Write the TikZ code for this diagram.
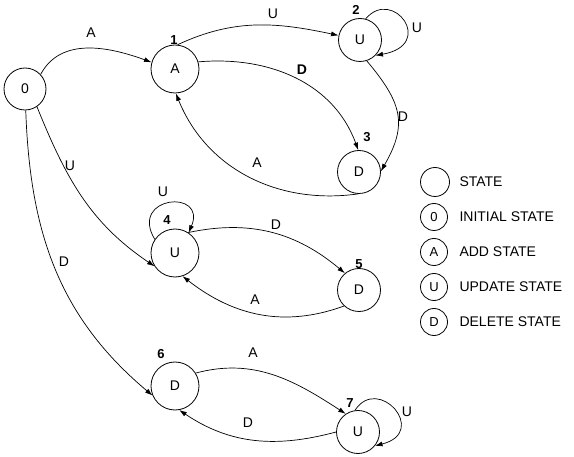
\documentclass[tikz,border=0pt]{standalone}
\usepackage{fontspec}
\setmainfont{Liberation Sans}
\usetikzlibrary{arrows.meta}
\tikzset{
  st/.style={circle, draw, line width=0.8pt, inner sep=0pt, font=\fontsize{14}{14}\selectfont},
  big/.style={st, minimum size=48pt},
  small/.style={st, minimum size=43pt},
  leg/.style={st, minimum size=27pt, font=\fontsize{13}{13}\selectfont},
  num/.style={font=\bfseries\fontsize{13}{13}\selectfont},
  lbl/.style={font=\fontsize{14}{14}\selectfont},
  legtext/.style={anchor=west, font=\fontsize{14}{14}\selectfont},
  tr/.style={-{Latex[length=7.5pt,width=5pt]}, line width=0.7pt},
}
\begin{document}
\begin{tikzpicture}[x=1pt, y=1pt]
\useasboundingbox (0,0) rectangle (574,456);

% states
\node[small, minimum size=42pt] (n0) at (25,367) {0};
\node[big]   (n1) at (175,387) {A};
\node[small] (n2) at (360,416) {U};
\node[small] (n3) at (359,284) {D};
\node[big]   (n4) at (175,203) {U};
\node[small] (n5) at (359,166) {D};
\node[big]   (n6) at (175,70) {D};
\node[small] (n7) at (358,24) {U};

% state numbers
\node[num] (k1) at (174,416) {1};
\node[num] (k2) at (356,446) {2};
\node[num] (k3) at (367,319) {3};
\node[num] (k4) at (167,236) {4};
\node[num] (k5) at (359,192) {5};
\node[num] (k6) at (161,102) {6};
\node[num] (k7) at (350,53) {7};

% transitions
\draw[tr] (n0.43) to[out=62,in=160] (n1.164);
\draw[tr] (n1.84) to[out=25,in=168] (n2.168);
\draw[tr] (n1.17) to[out=5,in=110] (n3.92);
\draw[tr] (n2.75) to[out=50,in=10,out distance=42pt,in distance=62pt] (n2.-45);
\draw[tr] (n2.-72) to[out=-50,in=60,looseness=1.25] (n3.2);
\draw[tr] (n3.-92) to[out=188,in=-68] (n1.-88);
\draw[tr] (n0.-56) to[out=-68,in=146] (n4.213);
\draw[tr] (n4.146) to[out=121,in=67,out distance=51pt,in distance=48pt] (n4.56);
\draw[tr] (n4.57) to[out=12,in=140] (n5.130);
\draw[tr] (n5.227) to[out=200,in=-38] (n4.-72);
\draw[tr] (n0.-88) to[out=-88,in=140] (n6.203);
\draw[tr] (n6.32) to[out=15,in=147] (n7.124);
\draw[tr] (n7.180) to[out=195,in=-34] (n6.-80);
\draw[tr] (n7.98) to[out=57,in=14,out distance=43pt,in distance=56pt] (n7.-39);

% transition labels
\node[lbl] (a01) at (91,423) {A};
\node[lbl] (u12) at (273,442) {U};
\node[lbl, font=\bfseries\fontsize{14}{14}\selectfont] (d13) at (302,386) {D};
\node[lbl] (u22) at (417,428) {U};
\node[lbl] (d23) at (403,339) {D};
\node[lbl] (a31) at (257,293) {A};
\node[lbl] (u04) at (70,290) {U};
\node[lbl] (u44) at (163,264) {U};
\node[lbl] (d45) at (276,231) {D};
\node[lbl] (a54) at (255,156) {A};
\node[lbl] (d06) at (64,194) {D};
\node[lbl] (a67) at (253,103) {A};
\node[lbl] (d76) at (248,33) {D};
\node[lbl] (u77) at (407,44) {U};

% legend
\node[leg, minimum size=29pt] (g0) at (435,274) {};
\node[leg] (g1) at (434,239) {0};
\node[leg] (g2) at (434,204) {A};
\node[leg] (g3) at (434,169) {U};
\node[leg] (g4) at (434,134) {D};
\node[legtext] (t0) at (456,274) {STATE};
\node[legtext] (t1) at (456,239) {INITIAL STATE};
\node[legtext] (t2) at (456,204) {ADD STATE};
\node[legtext] (t3) at (456,169) {UPDATE STATE};
\node[legtext] (t4) at (456,134) {DELETE STATE};
\end{tikzpicture}
\end{document}
